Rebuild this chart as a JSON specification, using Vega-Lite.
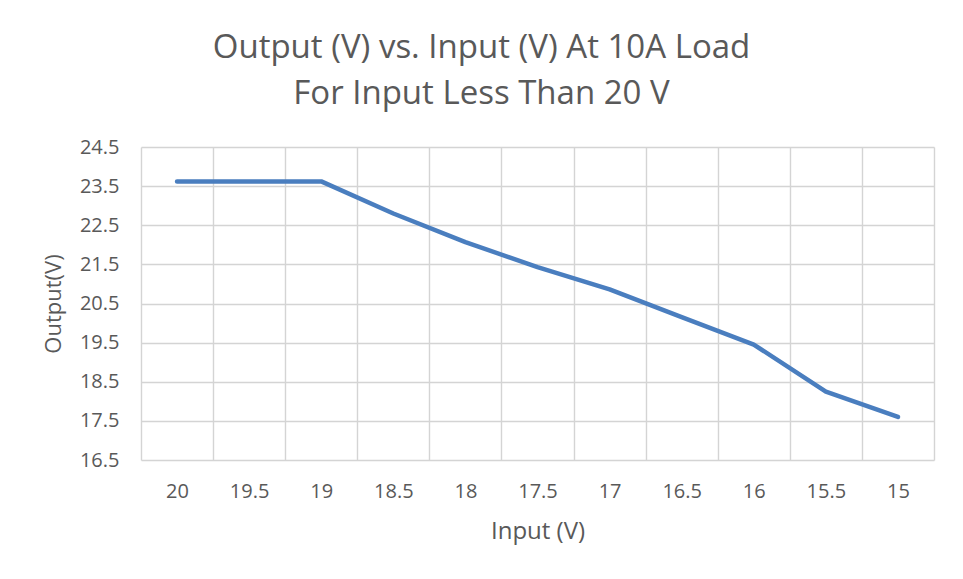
{
  "$schema": "https://vega.github.io/schema/vega-lite/v6.json",
  "width": 793,
  "height": 313,
  "autosize": "none",
  "padding": {"left": 141, "top": 147, "right": 29, "bottom": 119},
  "background": "white",
  "title": {
    "text": ["Output (V) vs. Input (V) At 10A Load", "For Input Less Than 20 V"],
    "font": "Open Sans",
    "fontSize": 33,
    "fontWeight": "normal",
    "color": "#595959",
    "lineHeight": 46,
    "anchor": "middle",
    "dx": -56,
    "offset": 26
  },
  "data": {
    "values": [
      {"input": "20", "output": 23.62},
      {"input": "19.5", "output": 23.62},
      {"input": "19", "output": 23.62},
      {"input": "18.5", "output": 22.8},
      {"input": "18", "output": 22.07},
      {"input": "17.5", "output": 21.43},
      {"input": "17", "output": 20.86},
      {"input": "16.5", "output": 20.15},
      {"input": "16", "output": 19.45},
      {"input": "15.5", "output": 18.25},
      {"input": "15", "output": 17.6}
    ]
  },
  "mark": {"type": "line", "color": "#4a7ebf", "strokeWidth": 4.5, "strokeCap": "round", "strokeJoin": "round"},
  "encoding": {
    "x": {
      "field": "input",
      "type": "ordinal",
      "sort": null,
      "bandPosition": 0.5,
      "scale": {"type": "band", "paddingInner": 0, "paddingOuter": 0},
      "axis": {
        "title": "Input (V)",
        "labelAngle": 0,
        "tickBand": "extent",
        "grid": true,
        "gridColor": "#d4d4d4",
        "gridWidth": 1.4,
        "domain": false,
        "ticks": false,
        "labelFont": "Open Sans",
        "labelFontSize": 20,
        "labelColor": "#595959",
        "labelPadding": 21,
        "titleFont": "Open Sans",
        "titleFontSize": 24,
        "titleFontWeight": "normal",
        "titleColor": "#595959",
        "titlePadding": 18
      }
    },
    "y": {
      "field": "output",
      "type": "quantitative",
      "scale": {"domain": [16.5, 24.5], "nice": false, "zero": false},
      "axis": {
        "title": "Output(V)",
        "values": [16.5, 17.5, 18.5, 19.5, 20.5, 21.5, 22.5, 23.5, 24.5],
        "format": ".1f",
        "grid": true,
        "gridColor": "#d4d4d4",
        "gridWidth": 1.4,
        "domain": false,
        "ticks": false,
        "labelFont": "Open Sans",
        "labelFontSize": 20,
        "labelColor": "#595959",
        "labelPadding": 22,
        "titleFont": "Open Sans",
        "titleFontSize": 22,
        "titleFontWeight": "normal",
        "titleColor": "#595959",
        "titlePadding": 14
      }
    }
  },
  "config": {"view": {"stroke": null}}
}
